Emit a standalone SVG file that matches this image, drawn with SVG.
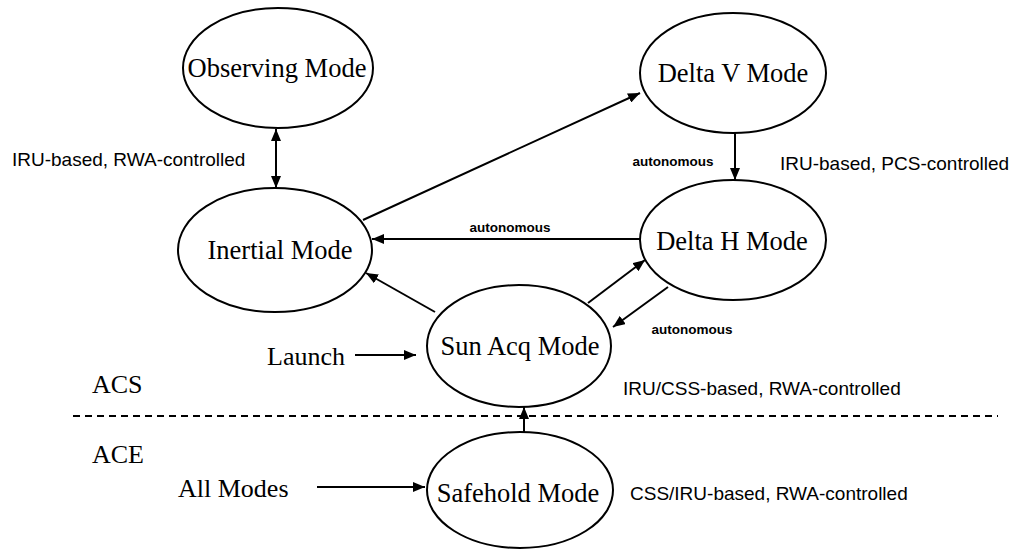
<svg xmlns="http://www.w3.org/2000/svg" width="1021" height="552" viewBox="0 0 1021 552">
<style>
.node ellipse{fill:#fff;stroke:#000;stroke-width:2}
.nt{font-family:"Liberation Serif","Times New Roman",serif;font-size:26.5px;fill:#000;text-anchor:middle}
.lt{font-family:"Liberation Serif","Times New Roman",serif;font-size:26px;fill:#000}
.st{font-family:"Liberation Sans",Arial,sans-serif;font-size:19px;fill:#000}
.at{font-family:"Liberation Sans",Arial,sans-serif;font-size:13.5px;font-weight:bold;fill:#000;text-anchor:middle}
.conn line{stroke:#000;stroke-width:2;fill:none}
</style>
<defs>
<marker id="ah" viewBox="0 0 12 10" refX="12" refY="5" markerWidth="12" markerHeight="10" orient="auto-start-reverse" markerUnits="userSpaceOnUse">
<path d="M0,0 L12,5 L0,10 z" fill="#000"/>
</marker>
</defs>
<rect width="1021" height="552" fill="#fff"/>

<g id="divider">
<line x1="73" y1="416" x2="998" y2="416" stroke="#000" stroke-width="2" stroke-dasharray="7,5"/>
</g>

<g id="conn" class="conn">
<line x1="276" y1="129" x2="276" y2="188" marker-start="url(#ah)" marker-end="url(#ah)"/>
<line x1="363" y1="220" x2="640" y2="93" marker-end="url(#ah)"/>
<line x1="735" y1="133" x2="735" y2="180" marker-end="url(#ah)"/>
<line x1="640" y1="239" x2="372" y2="239" marker-end="url(#ah)"/>
<line x1="435" y1="312" x2="366" y2="273" marker-end="url(#ah)"/>
<line x1="588" y1="303" x2="645" y2="260" marker-end="url(#ah)"/>
<line x1="668" y1="287" x2="613" y2="327" marker-end="url(#ah)"/>
<line x1="355" y1="355" x2="416" y2="355" marker-end="url(#ah)"/>
<line x1="317" y1="487" x2="425" y2="487" marker-end="url(#ah)"/>
<line x1="524" y1="433" x2="524" y2="407" marker-end="url(#ah)"/>
</g>

<g id="observing" class="node"><ellipse cx="278" cy="68" rx="95" ry="60"/><text class="nt" x="277" y="77">Observing Mode</text></g>
<g id="deltav" class="node"><ellipse cx="733" cy="73" rx="93" ry="60"/><text class="nt" x="733" y="82">Delta V Mode</text></g>
<g id="inertial" class="node"><ellipse cx="275" cy="250" rx="97" ry="62"/><text class="nt" x="280" y="259">Inertial Mode</text></g>
<g id="deltah" class="node"><ellipse cx="733" cy="240" rx="93" ry="60"/><text class="nt" x="732" y="250">Delta H Mode</text></g>
<g id="sunacq" class="node"><ellipse cx="519" cy="346" rx="92" ry="61"/><text class="nt" x="520" y="355">Sun Acq Mode</text></g>
<g id="safehold" class="node"><ellipse cx="520" cy="490" rx="93" ry="58"/><text class="nt" x="518" y="502">Safehold Mode</text></g>

<g id="labels">
<text class="st" x="12" y="166">IRU-based, RWA-controlled</text>
<text class="st" x="780" y="170">IRU-based, PCS-controlled</text>
<text class="st" x="623" y="395">IRU/CSS-based, RWA-controlled</text>
<text class="st" x="630" y="500">CSS/IRU-based, RWA-controlled</text>
<text class="at" x="673" y="166">autonomous</text>
<text class="at" x="510" y="232">autonomous</text>
<text class="at" x="692" y="334">autonomous</text>
<text class="lt" x="267" y="365">Launch</text>
<text class="lt" x="178" y="497">All Modes</text>
<text class="lt" x="92" y="393">ACS</text>
<text class="lt" x="92" y="463">ACE</text>
</g>
</svg>
